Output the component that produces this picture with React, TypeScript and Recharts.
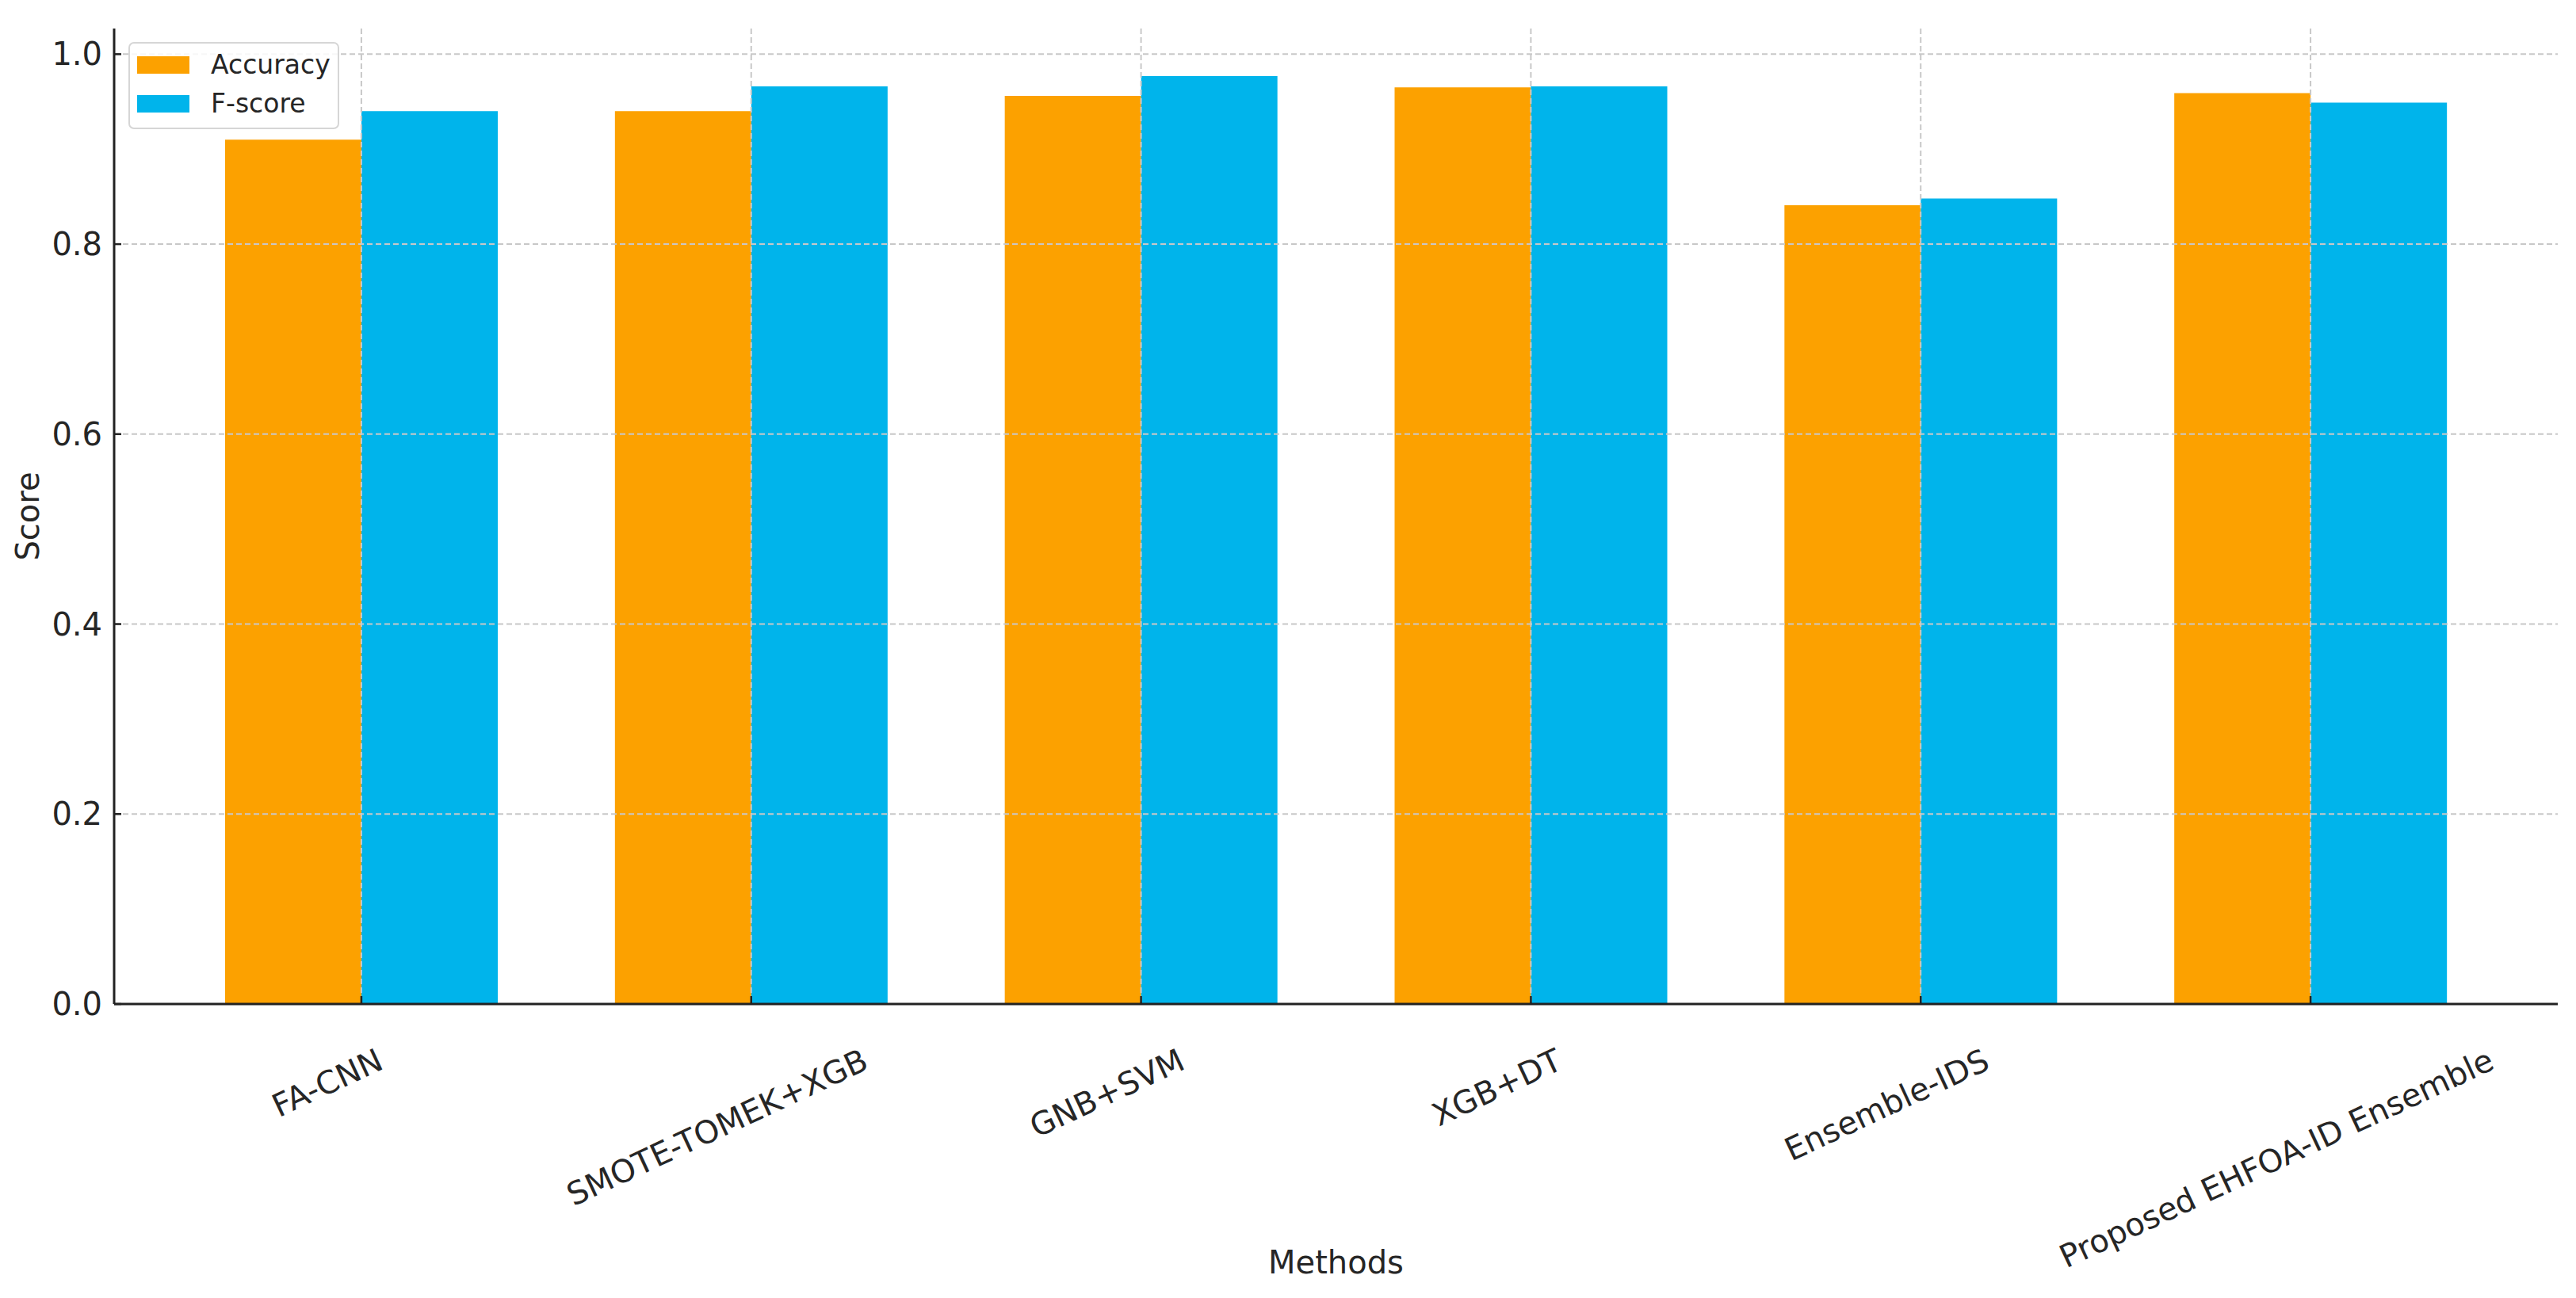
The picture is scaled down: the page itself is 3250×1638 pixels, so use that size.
import * as React from 'react';
import {
  Bar,
  BarChart,
  CartesianGrid,
  Label,
  Legend,
  XAxis,
  YAxis,
} from 'recharts';

// Methods comparison: Accuracy vs F-score
const categories = [
  'FA-CNN',
  'SMOTE-TOMEK+XGB',
  'GNB+SVM',
  'XGB+DT',
  'Ensemble-IDS',
  'Proposed EHFOA-ID Ensemble',
];
const accuracy = [0.91, 0.94, 0.956, 0.965, 0.841, 0.959];
const fscore = [0.94, 0.966, 0.977, 0.966, 0.848, 0.949];
const yTicks = [0, 0.2, 0.4, 0.6, 0.8, 1.0];

const data = categories.map((name, i) => ({ name, accuracy: accuracy[i], fscore: fscore[i] }));

const W = 3250;
const H = 1638;
const PLOT_LEFT = 144;
const PLOT_RIGHT = 3227;
const PLOT_TOP = 36;
const PLOT_BOTTOM = 1267;
const Y_AXIS_W = 100;
const X_AXIS_H = 350;
const X_PAD = 66;
const BAND = (PLOT_RIGHT - PLOT_LEFT - 2 * X_PAD) / categories.length;

const FONT = '"DejaVu Sans", "Liberation Sans", sans-serif';
const TEXT = '#262626';
const ORANGE = '#FCA100';
const BLUE = '#00B4EB';
const TICK_FS = 40;
const ROT = 25;

let ctx: CanvasRenderingContext2D | null = null;
function textWidth(s: string): number {
  if (!ctx) ctx = document.createElement('canvas').getContext('2d');
  if (!ctx) return s.length * TICK_FS * 0.6;
  ctx.font = `${TICK_FS}px "DejaVu Sans"`;
  return ctx.measureText(s).width;
}

function XTick({ x, payload }: any) {
  const label = String(payload.value);
  const w = textWidth(label);
  const rad = (ROT * Math.PI) / 180;
  const boxH = w * Math.sin(rad) + TICK_FS * 0.73 * Math.cos(rad);
  const cx = x - 43;
  const cy = PLOT_BOTTOM + 55 + boxH / 2;
  return (
    <g>
      <line x1={x} x2={x} y1={PLOT_BOTTOM} y2={PLOT_BOTTOM - 10} stroke="#222" strokeWidth={2.5} />
      <text
        x={cx}
        y={cy}
        textAnchor="middle"
        dominantBaseline="central"
        transform={`rotate(-${ROT} ${cx} ${cy})`}
        fontFamily={FONT}
        fontSize={TICK_FS}
        fill={TEXT}
      >
        {label}
      </text>
    </g>
  );
}

function YTick({ y, payload }: any) {
  return (
    <g>
      <line x1={PLOT_LEFT} x2={PLOT_LEFT + 9} y1={y} y2={y} stroke="#222" strokeWidth={2.5} />
      <text
        x={PLOT_LEFT - 15}
        y={y}
        textAnchor="end"
        dominantBaseline="central"
        fontFamily={FONT}
        fontSize={TICK_FS}
        fill={TEXT}
      >
        {Number(payload.value).toFixed(1)}
      </text>
    </g>
  );
}

function LegendBox({ payload }: any) {
  return (
    <div
      style={{
        position: 'relative',
        width: 266,
        height: 110,
        boxSizing: 'border-box',
        border: '2.5px solid #d6d6d6',
        borderRadius: 7,
        background: 'rgba(255,255,255,0.85)',
        fontFamily: FONT,
        fontSize: 33,
        color: TEXT,
      }}
    >
      {(payload ?? []).map((p: any, i: number) => (
        <div key={p.value} style={{ position: 'absolute', left: 9, top: 15 + i * 49, height: 24, display: 'flex', alignItems: 'center' }}>
          <span style={{ display: 'inline-block', width: 66, height: 22, background: p.color }} />
          <span style={{ marginLeft: 27, lineHeight: '24px', whiteSpace: 'nowrap' }}>{p.value}</span>
        </div>
      ))}
    </div>
  );
}

export default function App() {
  return (
    <div style={{ position: 'absolute', left: 0, top: 0, width: W, height: H, background: '#fff' }}>
      <BarChart
        width={W}
        height={H}
        data={data}
        margin={{ top: PLOT_TOP, right: W - PLOT_RIGHT, left: PLOT_LEFT - Y_AXIS_W, bottom: H - PLOT_BOTTOM - X_AXIS_H }}
        barGap={0}
        barSize={Math.round(BAND * 0.35)}
      >
        {/* grid only at tick positions, no lines on the frame edges */}
        <CartesianGrid
          stroke="#c8c8c8"
          strokeWidth={2}
          strokeDasharray="7 4"
          syncWithTicks
          horizontalValues={yTicks.slice(1)}
          zIndex={600}
        />
        <XAxis
          dataKey="name"
          type="category"
          height={X_AXIS_H}
          padding={{ left: X_PAD, right: X_PAD }}
          axisLine={{ stroke: '#222', strokeWidth: 3 }}
          tickLine={false}
          tick={<XTick />}
          interval={0}
        >
          <Label
            content={() => (
              <text
                x={(PLOT_LEFT + PLOT_RIGHT) / 2}
                y={1607}
                textAnchor="middle"
                fontFamily={FONT}
                fontSize={40}
                fill={TEXT}
              >
                Methods
              </text>
            )}
          />
        </XAxis>
        <YAxis
          type="number"
          width={Y_AXIS_W}
          domain={[0, 1.027]}
          ticks={yTicks}
          axisLine={{ stroke: '#222', strokeWidth: 3 }}
          tickLine={false}
          tick={<YTick />}
          zIndex={700}
        >
          <Label
            content={() => (
              <text
                x={35}
                y={(PLOT_TOP + PLOT_BOTTOM) / 2}
                textAnchor="middle"
                dominantBaseline="central"
                transform={`rotate(-90 35 ${(PLOT_TOP + PLOT_BOTTOM) / 2})`}
                fontFamily={FONT}
                fontSize={40}
                fill={TEXT}
              >
                Score
              </text>
            )}
          />
        </YAxis>
        <Legend
          layout="vertical"
          align="center"
          verticalAlign="middle"
          content={<LegendBox />}
          wrapperStyle={{ position: 'absolute', left: 162, top: 53, width: 'auto', height: 'auto' }}
        />
        <Bar dataKey="accuracy" name="Accuracy" fill={ORANGE} isAnimationActive={false} />
        <Bar dataKey="fscore" name="F-score" fill={BLUE} isAnimationActive={false} />
      </BarChart>
    </div>
  );
}
